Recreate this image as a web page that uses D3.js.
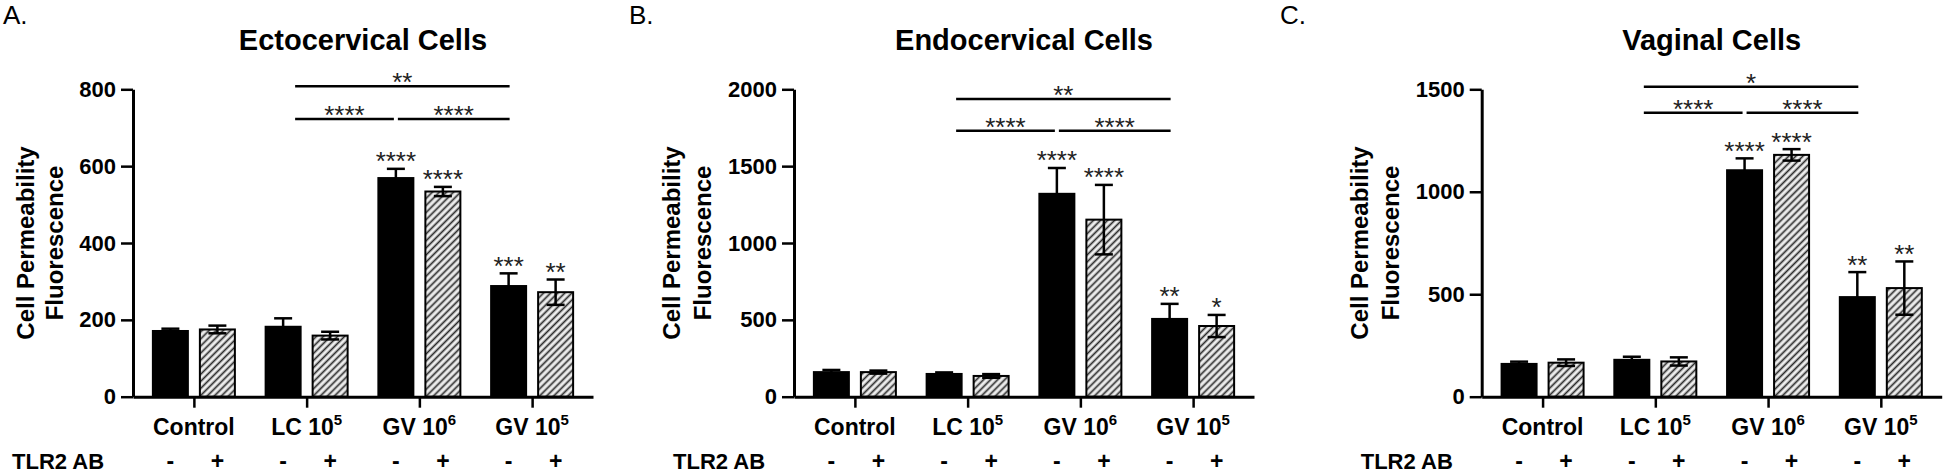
<!DOCTYPE html>
<html><head><meta charset="utf-8">
<script src="https://cdn.jsdelivr.net/npm/d3@7"></script>
<style>
body{margin:0;background:#fff;}
svg{display:block;}
text{font-family:"Liberation Sans",Arial,sans-serif;fill:#000;}
</style></head><body>
<svg id="chart" width="1944" height="476"></svg>
<script>
// ---- data ----
const categories = ["Control", "LC 10", "GV 10", "GV 10"];
const categorySup = ["", "5", "6", "5"];
const treatment = ["-", "+"];
const rowLabel = "TLR2 AB";
const yLabelLines = ["Cell Permeability", "Fluorescence"];
const panelLetters = ["A.", "B.", "C."];
const panelTitles = ["Ectocervical Cells", "Endocervical Cells", "Vaginal Cells"];
const yMax = [800, 2000, 1500];
const yStep = [200, 500, 500];

// bar order: Control-, Control+, LC-, LC+, GV6-, GV6+, GV5-, GV5+
const ectoMean = [171, 175, 182, 159, 569, 534, 288, 272];
const ectoErr  = [6, 10, 22, 10, 24, 12, 33, 33];
const endoMean = [160, 160, 148, 135, 1320, 1152, 506, 460];
const endoErr  = [14, 10, 10, 12, 168, 226, 98, 72];
const vagMean  = [160, 166, 180, 172, 1105, 1180, 486, 530];
const vagErr   = [11, 16, 15, 20, 58, 28, 122, 130];

const ectoStars = ["", "", "", "", "****", "****", "***", "**"];
const endoStars = ["", "", "", "", "****", "****", "**", "*"];
const vagStars  = ["", "", "", "", "****", "****", "**", "**"];

// comparison brackets: bar index pairs, label per panel, level (data units) per panel
const bracketPairs = [[2, 6], [2, 4], [4, 6]];
const ectoBrackets = ["**", "****", "****"];
const endoBrackets = ["**", "****", "****"];
const vagBrackets  = ["*", "****", "****"];
const ectoBracketLevel = [808, 723, 723];
const endoBracketLevel = [1937, 1731, 1731];
const vagBracketLevel  = [1512, 1385, 1385];

const panels = [
  {mean: ectoMean, err: ectoErr, stars: ectoStars, br: ectoBrackets, brLevel: ectoBracketLevel},
  {mean: endoMean, err: endoErr, stars: endoStars, br: endoBrackets, brLevel: endoBracketLevel},
  {mean: vagMean,  err: vagErr,  stars: vagStars,  br: vagBrackets,  brLevel: vagBracketLevel}
];

// ---- layout ----
const axisXs = [133, 794, 1481.7];
const letterXs = [3, 629, 1280];
const yLabelOffsets = [[-107, -78], [-122, -91], [-122, -91]];
const plotW = 460, yTop = 89.3, yBot = 396.7;
const bold = "bold";

const svg = d3.select("#chart");
const defs = svg.append("defs");
const pat = defs.append("pattern").attr("id", "hatch")
  .attr("patternUnits", "userSpaceOnUse").attr("width", 5).attr("height", 5)
  .attr("patternTransform", "rotate(45)");
pat.append("rect").attr("width", 5).attr("height", 5).attr("fill", "#eeeeee");
pat.append("line").attr("x1", 2.5).attr("y1", 0).attr("x2", 2.5).attr("y2", 5)
  .attr("stroke", "#2a2a2a").attr("stroke-width", 1.7);

panels.forEach((p, i) => {
  svg.append("text").attr("x", letterXs[i]).attr("y", 24)
    .style("font-size", "26px")
    .text(panelLetters[i]);

  const g = svg.append("g").attr("transform", `translate(${axisXs[i]},0)`);
  const x = d3.scalePoint().domain(d3.range(categories.length)).range([0, plotW]).padding(0.54);
  const sub = d3.scaleBand().domain(treatment).range([-42, 42]).paddingInner(0.2128);
  const bw = sub.bandwidth();
  const y = d3.scaleLinear().domain([0, yMax[i]]).range([yBot, yTop]);

  const bars = p.mean.map((m, j) => ({
    cat: Math.floor(j / 2), t: treatment[j % 2], mean: m, err: p.err[j], star: p.stars[j]
  }));
  const cx = d => x(d.cat) + sub(d.t) + bw / 2;

  // title
  g.append("text").attr("x", plotW / 2).attr("y", 50).attr("text-anchor", "middle")
    .style("font-size", "29px").style("font-weight", bold).text(panelTitles[i]);

  // bars
  g.selectAll("rect.bar").data(bars).join("rect").attr("class", "bar")
    .attr("x", d => x(d.cat) + sub(d.t) + 1)
    .attr("width", bw - 2)
    .attr("y", d => y(d.mean))
    .attr("height", d => yBot - y(d.mean))
    .attr("fill", d => d.t === "-" ? "#000" : "url(#hatch)")
    .attr("stroke", "#000").attr("stroke-width", 2);

  // error bars
  const eb = g.selectAll("g.eb").data(bars).join("g").attr("class", "eb")
    .attr("stroke", "#000").attr("stroke-width", 2.5);
  eb.append("line").attr("x1", cx).attr("x2", cx)
    .attr("y1", d => y(d.mean + d.err)).attr("y2", d => y(d.mean - d.err));
  eb.append("line").attr("x1", d => cx(d) - 9).attr("x2", d => cx(d) + 9)
    .attr("y1", d => y(d.mean + d.err)).attr("y2", d => y(d.mean + d.err));
  eb.filter(d => d.t === "+").append("line").attr("x1", d => cx(d) - 9).attr("x2", d => cx(d) + 9)
    .attr("y1", d => y(d.mean - d.err)).attr("y2", d => y(d.mean - d.err));

  // significance stars above bars
  g.selectAll("text.star").data(bars.filter(d => d.star)).join("text").attr("class", "star")
    .attr("x", cx).attr("y", d => y(d.mean + d.err) - 13.5 + 15)
    .attr("text-anchor", "middle").style("font-size", "26px").style("fill", "#222")
    .text(d => d.star);

  // brackets
  const barCenter = j => cx(bars[j]);
  bracketPairs.forEach((pr, k) => {
    const x1 = barCenter(pr[0]) + (pr[0] === 2 ? 12 : 2);
    const x2 = barCenter(pr[1]) + (pr[1] === 4 ? -2 : 1);
    const ly = y(p.brLevel[k]);
    g.append("line").attr("x1", x1).attr("x2", x2).attr("y1", ly).attr("y2", ly)
      .attr("stroke", "#000").attr("stroke-width", 2.5);
    g.append("text").attr("x", (x1 + x2) / 2).attr("y", ly + 5)
      .attr("text-anchor", "middle").style("font-size", "26px").style("fill", "#222")
      .text(p.br[k]);
  });

  // y axis
  const ya = g.append("g").call(d3.axisLeft(y)
    .tickValues(d3.range(0, yMax[i] + 1, yStep[i])).tickFormat(d3.format("d"))
    .tickSize(12).tickSizeOuter(0).tickPadding(5));
  ya.select(".domain").attr("stroke-width", 3);
  ya.selectAll(".tick line").attr("stroke-width", 2.5);
  ya.selectAll(".tick text").style("font-size", "22px").style("font-weight", bold)
    .style("font-family", "'Liberation Sans',Arial,sans-serif").attr("fill", "#000");

  // x axis
  const xa = g.append("g").attr("transform", `translate(0,${yBot})`)
    .call(d3.axisBottom(x).tickSize(11).tickSizeOuter(0).tickFormat(""));
  xa.select(".domain").attr("stroke-width", 3);
  xa.selectAll(".tick line").attr("stroke-width", 2.5);

  // category labels
  const cl = g.selectAll("text.cat").data(categories).join("text").attr("class", "cat")
    .attr("x", (d, j) => x(j)).attr("y", 435).attr("text-anchor", "middle")
    .style("font-size", "23px").style("font-weight", bold);
  cl.append("tspan").text(d => d);
  cl.append("tspan").attr("dy", -10).style("font-size", "15px").text((d, j) => categorySup[j]);

  // treatment row
  g.append("text").attr("x", -121).attr("y", 469)
    .style("font-size", "22px").style("font-weight", bold).text(rowLabel);
  g.selectAll("text.sign").data(bars).join("text").attr("class", "sign")
    .attr("x", cx).attr("y", 469).attr("text-anchor", "middle")
    .style("font-size", "23px").style("font-weight", bold).text(d => d.t);

  // y label
  yLabelLines.forEach((ln, k) => {
    g.append("text").attr("transform", `translate(${yLabelOffsets[i][k]},243) rotate(-90)`)
      .attr("text-anchor", "middle").attr("dy", "0.35em")
      .style("font-size", "24px").style("font-weight", bold).text(ln);
  });
});
</script>
</body></html>
